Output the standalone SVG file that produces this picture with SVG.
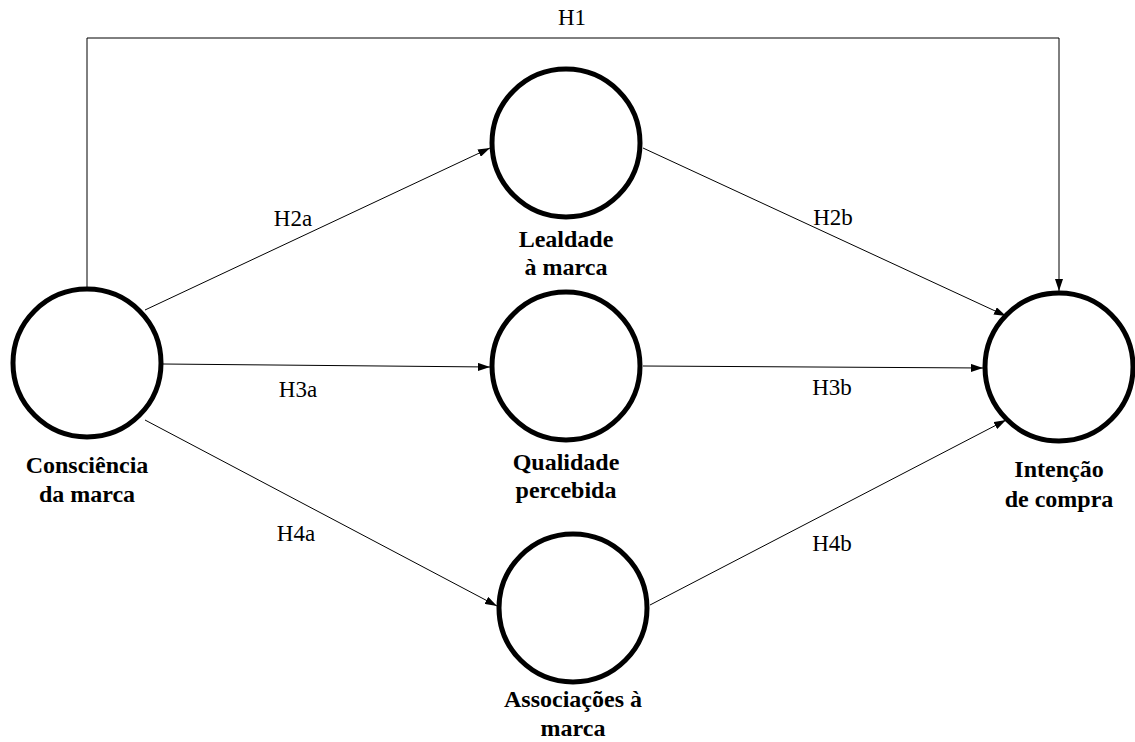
<svg xmlns="http://www.w3.org/2000/svg" width="1135" height="742" viewBox="0 0 1135 742">
<style>
.node{fill:#fff;stroke:#000;stroke-width:5}
.edge{fill:none;stroke:#000;stroke-width:1}
.lbl{font-size:23px;fill:#000;text-anchor:middle}
.nl{font-size:24px;font-weight:bold;fill:#000;text-anchor:middle}
</style>
<defs>
<marker id="ah" viewBox="0 0 12 8" refX="12" refY="4" markerWidth="12" markerHeight="8" markerUnits="userSpaceOnUse" orient="auto">
<path d="M0,0 L12,4 L0,8 Z" fill="#000"/>
</marker>
</defs>
<rect width="1135" height="742" fill="#fff"/>
<g id="connectors" font-family="Liberation Serif, Times New Roman, serif">
<polyline class="edge" points="87,289 87,38 1059,38 1059,291" marker-end="url(#ah)"/>
<line class="edge" x1="145" y1="310" x2="490" y2="148" marker-end="url(#ah)"/>
<line class="edge" x1="163" y1="364" x2="490" y2="367" marker-end="url(#ah)"/>
<line class="edge" x1="145" y1="420" x2="497" y2="606" marker-end="url(#ah)"/>
<line class="edge" x1="643" y1="148" x2="1006" y2="316" marker-end="url(#ah)"/>
<line class="edge" x1="643" y1="366" x2="983" y2="368" marker-end="url(#ah)"/>
<line class="edge" x1="650" y1="605" x2="1006" y2="420" marker-end="url(#ah)"/>
<text class="lbl" x="572" y="25">H1</text>
<text class="lbl" x="293" y="226">H2a</text>
<text class="lbl" x="298" y="397">H3a</text>
<text class="lbl" x="296" y="541">H4a</text>
<text class="lbl" x="833" y="225">H2b</text>
<text class="lbl" x="832" y="395">H3b</text>
<text class="lbl" x="832" y="551">H4b</text>
</g>
<g id="consciencia" font-family="Liberation Serif, Times New Roman, serif">
<circle class="node" cx="87" cy="363" r="74"/>
<text class="nl" x="87" y="473">Consciência</text>
<text class="nl" x="87" y="502">da marca</text>
</g>
<g id="lealdade" font-family="Liberation Serif, Times New Roman, serif">
<circle class="node" cx="566" cy="143" r="74"/>
<text class="nl" x="566" y="247">Lealdade</text>
<text class="nl" x="566" y="275">à marca</text>
</g>
<g id="qualidade" font-family="Liberation Serif, Times New Roman, serif">
<circle class="node" cx="566" cy="366" r="74"/>
<text class="nl" x="566" y="470">Qualidade</text>
<text class="nl" x="566" y="498">percebida</text>
</g>
<g id="associacoes" font-family="Liberation Serif, Times New Roman, serif">
<circle class="node" cx="573" cy="608" r="74"/>
<text class="nl" x="573" y="707">Associações à</text>
<text class="nl" x="573" y="736">marca</text>
</g>
<g id="intencao" font-family="Liberation Serif, Times New Roman, serif">
<circle class="node" cx="1059" cy="367" r="74"/>
<text class="nl" x="1059" y="477">Intenção</text>
<text class="nl" x="1059" y="507">de compra</text>
</g>
</svg>
